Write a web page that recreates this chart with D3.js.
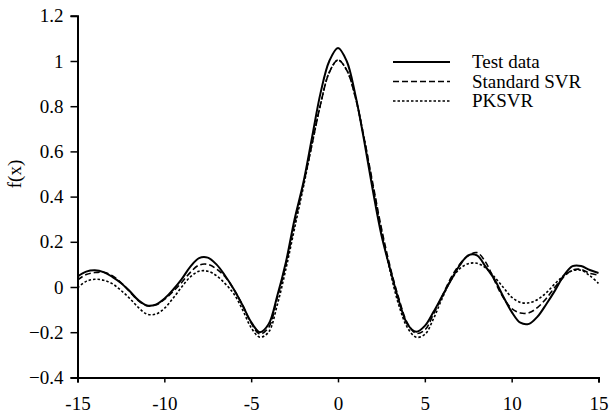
<!DOCTYPE html>
<html>
<head>
<meta charset="utf-8">
<script src="https://cdn.jsdelivr.net/npm/d3@7"></script>
<style>
  body { margin: 0; background: #fff; }
  text { font-family: "Liberation Serif", "Times New Roman", serif; }
</style>
</head>
<body>
<div id="chart"></div>
<script>
// x grid used for all three curves
var xs = [-15, -14.5, -14, -13.5, -13, -12.5, -12, -11.5, -11, -10.5, -10, -9.5, -9, -8.5, -8, -7.5, -7, -6.5, -6, -5.5, -5, -4.5, -4, -3.5, -3, -2.5, -2, -1.5, -1, -0.5,
          0, 0.5, 1, 1.5, 2, 2.5, 3, 3.5, 4, 4.5, 5, 5.5, 6, 6.5, 7, 7.5, 8, 8.5, 9, 9.5, 10, 10.5, 11, 11.5, 12, 12.5, 13, 13.5, 14, 14.5, 15];

var testData = [0.046, 0.068, 0.074, 0.066, 0.045, 0.018, -0.018, -0.058, -0.082, -0.078, -0.052, -0.012, 0.035, 0.09, 0.128, 0.13, 0.1, 0.05, -0.01, -0.08, -0.155, -0.2, -0.165, -0.04, 0.11, 0.3, 0.46, 0.66, 0.86, 1.0,
                1.058, 1.0, 0.85, 0.65, 0.43, 0.23, 0.08, -0.06, -0.165, -0.198, -0.172, -0.11, -0.04, 0.03, 0.095, 0.14, 0.14, 0.09, 0.035, -0.04, -0.11, -0.158, -0.163, -0.13, -0.075, -0.015, 0.05, 0.092, 0.093, 0.075, 0.062];

var standardSVR = [0.031, 0.055, 0.064, 0.065, 0.05, 0.02, -0.02, -0.06, -0.083, -0.08, -0.055, -0.02, 0.02, 0.065, 0.097, 0.1, 0.08, 0.045, -0.01, -0.08, -0.16, -0.208, -0.18, -0.05, 0.1, 0.28, 0.45, 0.63, 0.81, 0.95,
                   1.004, 0.96, 0.84, 0.66, 0.46, 0.26, 0.09, -0.05, -0.16, -0.205, -0.19, -0.12, -0.04, 0.04, 0.1, 0.138, 0.152, 0.11, 0.03, -0.045, -0.095, -0.115, -0.114, -0.09, -0.05, 0.0, 0.045, 0.075, 0.078, 0.06, 0.053];

var pksvr = [-0.004, 0.025, 0.034, 0.03, 0.015, -0.015, -0.05, -0.09, -0.12, -0.12, -0.095, -0.05, 0.0, 0.045, 0.07, 0.07, 0.05, 0.015, -0.03, -0.1, -0.18, -0.222, -0.2, -0.08, 0.08, 0.26, 0.44, 0.63, 0.81, 0.95,
             1.004, 0.96, 0.84, 0.66, 0.45, 0.25, 0.07, -0.08, -0.18, -0.222, -0.21, -0.14, -0.05, 0.03, 0.08, 0.103, 0.105, 0.085, 0.045, 0.0, -0.045, -0.068, -0.07, -0.055, -0.025, 0.015, 0.05, 0.072, 0.074, 0.05, 0.016];

var xTicks = [-15, -10, -5, 0, 5, 10, 15];
var yTicks = [-0.4, -0.2, 0, 0.2, 0.4, 0.6, 0.8, 1, 1.2];
var seriesNames = ["Test data", "Standard SVR", "PKSVR"];

var W = 612, H = 413;
var margin = {top: 15.8, right: 13.5, bottom: 35.6, left: 77.5};
var width = W - margin.left - margin.right;
var height = H - margin.top - margin.bottom;
var fontSize = "19px";

var x = d3.scaleLinear().domain([-15, 15]).range([0, width]);
var y = d3.scaleLinear().domain([-0.4, 1.2]).range([height, 0]);

var svg = d3.select("#chart").append("svg")
    .attr("width", W)
    .attr("height", H)
    .append("g")
    .attr("transform", "translate(" + margin.left + "," + margin.top + ")");

// axes
var xAxis = d3.axisBottom(x).tickValues(xTicks).tickSizeOuter(0).tickSize(5).tickPadding(14)
    .tickFormat(function(d) { return d; });
var yAxis = d3.axisLeft(y).tickValues(yTicks).tickSizeOuter(0).tickSize(7).tickPadding(7)
    .tickFormat(function(d) { return d3.format("")(+d.toFixed(1)); });

var gx = svg.append("g")
    .attr("transform", "translate(0," + height + ")")
    .call(xAxis);
var gy = svg.append("g").call(yAxis);

[gx, gy].forEach(function(g) {
    g.select(".domain").attr("stroke", "#000").attr("stroke-width", 2);
    g.selectAll(".tick line").attr("stroke", "#000").attr("stroke-width", 1.5);
    g.selectAll(".tick text")
        .attr("fill", "#000")
        .style("font-family", "'Liberation Serif', serif")
        .style("font-size", fontSize);
});

svg.append("text")
    .attr("transform", "translate(" + (14 - margin.left) + "," + y(0.5) + ") rotate(-90)")
    .attr("text-anchor", "middle")
    .attr("dy", "0.35em")
    .style("font-size", fontSize)
    .text("f(x)");

// curves
var styles = [
    {data: testData, width: 2, dash: null},
    {data: standardSVR, width: 1.6, dash: "6,3"},
    {data: pksvr, width: 1.6, dash: "2.5,2"}
];

var line = d3.line()
    .x(function(d) { return x(d[0]); })
    .y(function(d) { return y(d[1]); })
    .curve(d3.curveCatmullRom);

styles.forEach(function(s) {
    svg.append("path")
        .datum(xs.map(function(v, i) { return [v, s.data[i]]; }))
        .attr("fill", "none")
        .attr("stroke", "#000")
        .attr("stroke-width", s.width)
        .attr("stroke-dasharray", s.dash)
        .attr("d", line);
});

// legend
var legend = svg.append("g")
    .attr("transform", "translate(" + (393 - margin.left) + "," + (62 - margin.top) + ")");

seriesNames.forEach(function(name, i) {
    var g = legend.append("g").attr("transform", "translate(0," + (i * 19.5) + ")");
    g.append("line")
        .attr("x1", 0).attr("x2", 57)
        .attr("stroke", "#000")
        .attr("stroke-width", styles[i].width)
        .attr("stroke-dasharray", styles[i].dash);
    g.append("text")
        .attr("x", 79)
        .attr("dy", "0.32em")
        .style("font-size", fontSize)
        .text(name);
});
</script>
</body>
</html>
